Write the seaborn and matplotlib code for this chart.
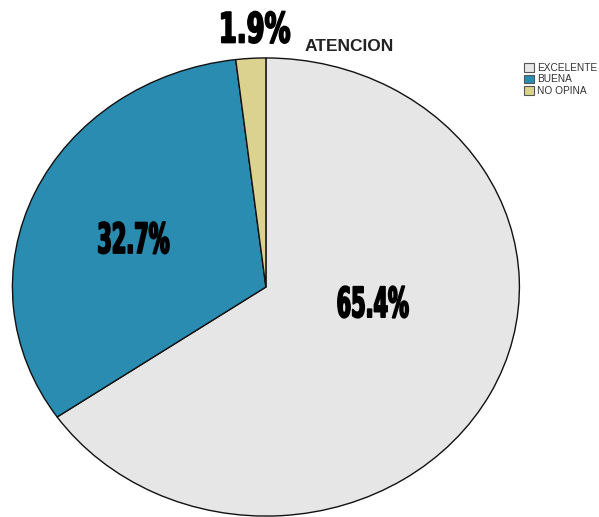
import matplotlib
matplotlib.use("Agg")
import matplotlib.pyplot as plt
from matplotlib.patheffects import AbstractPathEffect
from matplotlib.transforms import Affine2D
import seaborn as sns

# Survey results: "ATENCION"
categories = ["EXCELENTE", "BUENA", "NO OPINA"]
percentages = [65.4, 32.7, 1.9]
slice_colors = ["#e6e6e6", "#2a8cb0", "#dcd28f"]
title = "ATENCION"


class CondensedHeavy(AbstractPathEffect):
    """Squeeze a text horizontally about its centre and thicken its strokes."""

    def __init__(self, sx=0.5, weight=1.5):
        super().__init__()
        self.sx = sx
        self.weight = weight

    def draw_path(self, renderer, gc, tpath, affine, rgbFace=None):
        ext = tpath.get_extents(affine)
        cx = 0.5 * (ext.x0 + ext.x1)
        squeeze = Affine2D().translate(-cx, 0).scale(self.sx, 1).translate(cx, 0)
        gc0 = renderer.new_gc()
        gc0.copy_properties(gc)
        gc0.set_linewidth(self.weight)
        gc0.set_foreground(rgbFace if rgbFace is not None else "black")
        gc0.set_joinstyle("round")
        renderer.draw_path(gc0, tpath, affine + squeeze, rgbFace)
        gc0.restore()


sns.set_theme(style="white")
plt.rcParams["font.family"] = ["Liberation Sans", "DejaVu Sans"]

fig = plt.figure(figsize=(5.99, 5.17), dpi=100)
ax = fig.add_axes([0, 0, 1, 1])

wedges, texts, autotexts = ax.pie(
    percentages,
    colors=slice_colors,
    startangle=90,
    counterclock=False,
    autopct="%1.1f%%",
    wedgeprops=dict(edgecolor="#111111", linewidth=1.0),
    textprops=dict(color="black"),
)

# Stretch the pie into the slightly wide ellipse
ax.set_aspect("auto")
ax.set_xlim(-1.049, 1.314)
ax.set_ylim(-1.004, 1.253)
ax.axis("off")

# Percentage label placement inside each slice
label_positions = [(0.420, -0.079), (-0.524, 0.201), (-0.047, 1.120)]
label_squeeze = [0.50, 0.50, 0.62]
for t, pos, sx in zip(autotexts, label_positions, label_squeeze):
    t.set_position(pos)
    t.set_ha("center")
    t.set_va("center")
    t.set_fontfamily("DejaVu Sans")
    t.set_fontweight("bold")
    t.set_fontsize(30)
    t.set_color("black")
    t.set_path_effects([CondensedHeavy(sx, 1.3)])

ax.text(0.330, 1.052, title, ha="center", va="center",
        fontsize=12.5, fontweight="bold", color="#222222")

handles = [plt.Rectangle((0, 0), 1, 1, facecolor=c, edgecolor="#555555", linewidth=0.8)
           for c in slice_colors]
fig.legend(handles, categories, loc="upper left",
           bbox_to_anchor=(0.866, 0.888), frameon=False,
           fontsize=7.3, handlelength=1.0, handleheight=0.85,
           handletextpad=0.3, labelspacing=0.15, borderpad=0.0,
           labelcolor="#333333")

fig.savefig("out.png", dpi=100, facecolor="white")
